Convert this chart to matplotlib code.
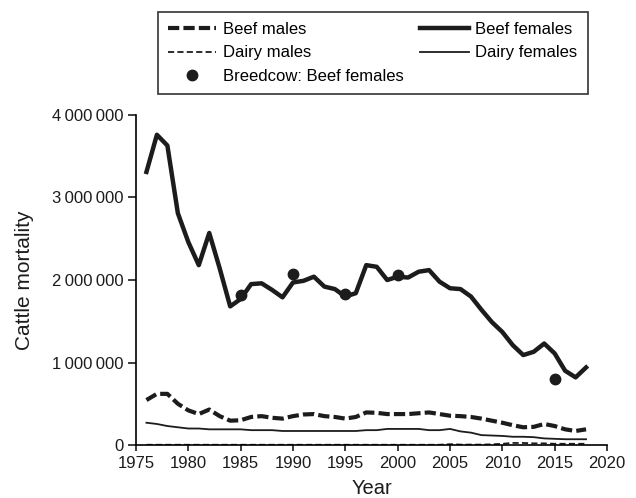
import matplotlib.pyplot as plt
import matplotlib.ticker as mticker
import numpy as np

plt.rcParams['font.family'] = ['Liberation Sans', 'DejaVu Sans']

years = np.arange(1976, 2019)

beef_females = [3.31, 3.76, 3.63, 2.81, 2.46, 2.18, 2.57, 2.14, 1.68, 1.77,
                1.95, 1.96, 1.88, 1.79, 1.97, 1.99, 2.04, 1.92, 1.89, 1.80,
                1.84, 2.18, 2.16, 2.00, 2.04, 2.03, 2.10, 2.12, 1.98, 1.90,
                1.89, 1.80, 1.64, 1.49, 1.37, 1.21, 1.09, 1.13, 1.23, 1.11,
                0.90, 0.82, 0.94]
beef_males = [0.545, 0.62, 0.62, 0.50, 0.42, 0.375, 0.43, 0.35, 0.295, 0.30,
              0.34, 0.35, 0.33, 0.32, 0.35, 0.37, 0.375, 0.35, 0.34, 0.32,
              0.34, 0.395, 0.39, 0.375, 0.375, 0.375, 0.385, 0.395, 0.375, 0.355,
              0.35, 0.34, 0.32, 0.295, 0.27, 0.24, 0.215, 0.22, 0.255, 0.23,
              0.19, 0.17, 0.19]
dairy_females = [0.27, 0.255, 0.23, 0.215, 0.20, 0.20, 0.19, 0.19, 0.19, 0.19,
                 0.18, 0.18, 0.18, 0.17, 0.17, 0.17, 0.17, 0.17, 0.17, 0.17,
                 0.17, 0.18, 0.18, 0.195, 0.195, 0.195, 0.195, 0.18, 0.18, 0.195,
                 0.165, 0.15, 0.12, 0.115, 0.11, 0.10, 0.10, 0.095, 0.08, 0.075,
                 0.07, 0.07, 0.07]
dairy_males = [0.003] * 29 + [0.01, 0.005, 0.005, 0.005, 0.008, 0.015, 0.025,
                              0.025, 0.02, 0.02, 0.015, 0.015, 0.015, 0.015]

breedcow_years = [1985, 1990, 1995, 2000, 2015]
breedcow_beef_females = [1.82, 2.07, 1.83, 2.06, 0.80]

labels = ['Beef males', 'Dairy males', 'Breedcow: Beef females', 'Beef females', 'Dairy females']

scale = 1e6

fig = plt.figure(figsize=(6.36, 4.98), dpi=100)
ax = fig.add_axes([0.2138, 0.1064, 0.7406, 0.6627])

c = '#1c1c1c'
l1, = ax.plot(years, np.array(beef_males) * scale, color=c, lw=3.0, ls=(0, (2.7, 1.0)))
l2, = ax.plot(years, np.array(dairy_males) * scale, color=c, lw=1.3, ls=(0, (3.4, 1.8)))
l3, = ax.plot(breedcow_years, np.array(breedcow_beef_females) * scale, 'o', color=c, ms=7.5)
l4, = ax.plot(years, np.array(beef_females) * scale, color=c, lw=3.2)
l5, = ax.plot(years, np.array(dairy_females) * scale, color=c, lw=1.3)

ax.set_xlim(1975, 2020)
ax.set_ylim(0, 4000000)
ax.set_xticks(np.arange(1975, 2021, 5))
ax.set_yticks(np.arange(0, 4000001, 1000000))
ax.yaxis.set_major_formatter(mticker.FuncFormatter(
    lambda v, p: '0' if v == 0 else '{:,}'.format(int(v)).replace(',', '\u2009')))
ax.tick_params(axis='both', labelsize=12, width=1.2, color=c, labelcolor=c)
ax.tick_params(axis='x', length=4, pad=4)
ax.tick_params(axis='y', length=6, pad=3)
ax.spines['top'].set_visible(False)
ax.spines['right'].set_visible(False)
ax.spines['left'].set_linewidth(1.2)
ax.spines['bottom'].set_linewidth(1.2)
ax.set_xlabel('Year', fontsize=14.5, color=c, labelpad=6)
ax.set_ylabel('Cattle mortality', fontsize=15, color=c, labelpad=13)

leg = fig.legend([l1, l2, l3, l4, l5], labels,
                 ncol=2, loc='upper left', bbox_to_anchor=(0.2484, 0.9759), borderaxespad=0,
                 fontsize=12, frameon=True, fancybox=False, edgecolor='black', handlelength=2.9,
                 handletextpad=0.4, columnspacing=1.0, labelspacing=0.5, borderpad=0.6)
leg.get_frame().set_linewidth(1.2)

fig.savefig('out.png', dpi=100)
